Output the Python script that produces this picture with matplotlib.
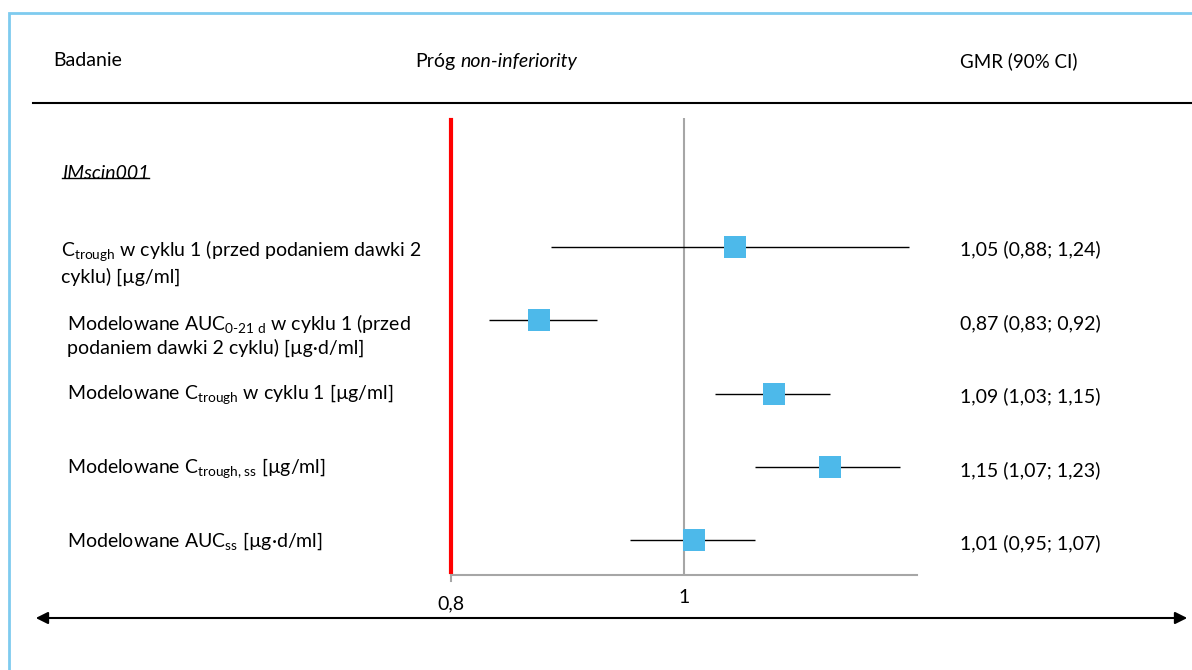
import matplotlib
matplotlib.use('Agg')
import matplotlib.pyplot as plt
from matplotlib.patches import Rectangle, FancyArrowPatch
from matplotlib.transforms import ScaledTranslation

plt.rcParams['font.family'] = ['Lato', 'DejaVu Sans']
plt.rcParams['mathtext.fontset'] = 'custom'
plt.rcParams['mathtext.rm'] = 'Lato'
plt.rcParams['mathtext.it'] = 'Lato:italic'
plt.rcParams['mathtext.bf'] = 'Lato:bold'

# dane: GMR i 90% CI dla kolejnych parametrów
study = 'IMscin001'
labels = [
    'C$_{\\text{trough}}$ w cyklu 1 (przed podaniem dawki 2\ncyklu) [µg/ml]',
    'Modelowane AUC$_{\\text{0-21 d}}$ w cyklu 1 (przed\npodaniem dawki 2 cyklu) [µg·d/ml]',
    'Modelowane C$_{\\text{trough}}$ w cyklu 1 [µg/ml]',
    'Modelowane C$_{\\text{trough, ss}}$ [µg/ml]',
    'Modelowane AUC$_{\\text{ss}}$ [µg·d/ml]',
]
gmr = [1.05, 0.87, 1.09, 1.15, 1.01]
ci_low = [0.88, 0.83, 1.03, 1.07, 0.95]
ci_high = [1.24, 0.92, 1.15, 1.23, 1.07]
margin = 0.8
x_ticks = [0.8, 1]
x_ticklabels = ['0,8', '1']

FS = 14
W, H = 1192, 670
fig = plt.figure(figsize=(W / 100, H / 100), dpi=100)

def fx(px):
    return px / W

def fy(py):
    return 1 - py / H

ax = fig.add_axes([fx(451), fy(575), fx(917) - fx(451), fy(118) - fy(575)])
ax.set_xscale('log')
ax.set_xlim(0.8, 1.25)
ax.set_ylim(5.47, -0.75)
rows = list(range(1, len(labels) + 1))

for s in ['top', 'right', 'left']:
    ax.spines[s].set_visible(False)
ax.spines['bottom'].set_color('#a6a6a6')
ax.spines['bottom'].set_linewidth(1.5)
ax.set_yticks([])
ax.minorticks_off()
ax.set_xticks(x_ticks)
ax.set_xticklabels(x_ticklabels, fontsize=FS)
ax.tick_params(axis='x', length=0, pad=10)
# "0,8" leży trochę niżej niż "1"
lab08 = ax.get_xticklabels()[0]
lab08.set_transform(lab08.get_transform() + ScaledTranslation(0, -6 / 100, fig.dpi_scale_trans))
ax.plot([0.8, 0.8], [5.47, 5.55], color='#a6a6a6', lw=1.5, clip_on=False)

# linia 1 i próg non-inferiority
ax.axvline(1, color='#a6a6a6', lw=1.5, zorder=1)
ax.plot([margin, margin], [-0.72, 5.43], color='#ff0000', lw=3, zorder=2, clip_on=False)

# przedziały ufności i punkty
ax.hlines(rows, ci_low, ci_high, color='black', lw=1, zorder=3)
ax.plot(gmr, rows, 's', color='#4db9ea', markersize=16, markeredgewidth=0, zorder=4)

# etykiety po lewej i wartości po prawej
tr_lab = ('figure fraction', 'data')
t_study = ax.annotate(study, xy=(fx(62), 0), xycoords=tr_lab, va='center', ha='left',
                      fontsize=FS, style='italic', annotation_clip=False)
for i, (lab, r) in enumerate(zip(labels, rows)):
    x0 = 61 if i == 0 else 67
    if '\n' in lab:
        ax.annotate(lab, xy=(fx(x0), r), xycoords=tr_lab, xytext=(0, 8),
                    textcoords='offset pixels', va='top', ha='left', fontsize=FS,
                    linespacing=1.25, annotation_clip=False)
    else:
        ax.annotate(lab, xy=(fx(x0), r), xycoords=tr_lab, xytext=(0, -1),
                    textcoords='offset pixels', va='center', ha='left', fontsize=FS,
                    annotation_clip=False)

for g, lo, hi, r in zip(gmr, ci_low, ci_high, rows):
    txt = f'{g:.2f} ({lo:.2f}; {hi:.2f})'.replace('.', ',')
    ax.annotate(txt, xy=(fx(960), r), xycoords=tr_lab, xytext=(0, -3),
                textcoords='offset pixels', va='center', ha='left', fontsize=FS,
                annotation_clip=False)

# nagłówek
fig.text(fx(53), fy(61), 'Badanie', fontsize=FS, va='center', ha='left')
t_prog = fig.text(fx(415), fy(61), 'Próg', fontsize=FS, va='center', ha='left')
fig.text(fx(960), fy(61), 'GMR (90% CI)', fontsize=FS - 0.5, va='center', ha='left')
ax.annotate('non-inferiority', xy=(1, 0.5), xycoords=t_prog, xytext=(3.5, 0),
            textcoords='offset points', va='center', ha='left', fontsize=FS,
            style='italic', annotation_clip=False)
fig.add_artist(plt.Line2D([fx(33), 1.0], [fy(103), fy(103)], color='black', lw=1.5,
                          transform=fig.transFigure))

# strzałka na dole
fig.add_artist(FancyArrowPatch((fx(33), fy(618)), (fx(1190), fy(618)),
                               transform=fig.transFigure, arrowstyle='<|-|>',
                               mutation_scale=18, color='black', lw=1.5))

# ramka
fig.add_artist(Rectangle((fx(9), -0.1), 1.2, fy(12.5) + 0.1, transform=fig.transFigure,
                         fill=False, edgecolor='#7ecbef', lw=2))

# podkreślenie nazwy badania
fig.canvas.draw()
bb = t_study.get_window_extent().transformed(fig.transFigure.inverted())
fig.add_artist(plt.Line2D([bb.x0, bb.x1], [bb.y0 + 0.005, bb.y0 + 0.005], color='black',
                          lw=1, transform=fig.transFigure))

fig.savefig('out.png', dpi=100)
